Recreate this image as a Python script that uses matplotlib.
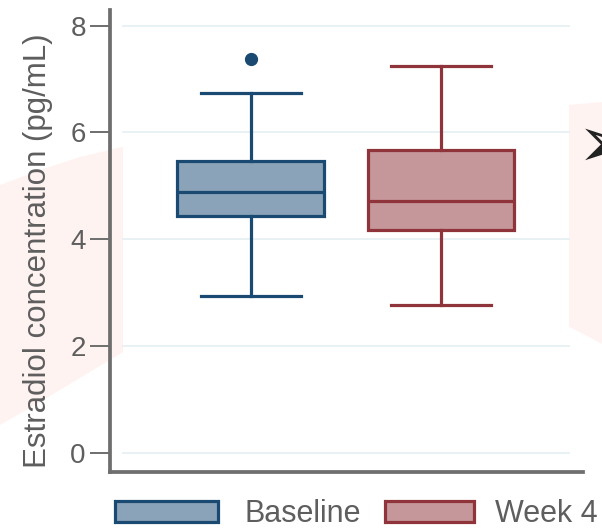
import matplotlib
matplotlib.use('Agg')
import matplotlib.pyplot as plt
from matplotlib.patches import Patch, Polygon, Rectangle

# values
groups = ["Baseline", "Week 4"]
q1 = [4.44, 4.18]
medians = [4.88, 4.71]
q3 = [5.47, 5.67]
whisk_lo = [2.95, 2.77]
whisk_hi = [6.73, 7.24]
outliers = [[7.38], []]
yticks = [0, 2, 4, 6, 8]

fills = ["#8BA3B8", "#C5969A"]
edges = ["#1A4971", "#8F343B"]
grey = "#5E5E5E"

plt.rcParams['font.family'] = ['Liberation Sans', 'DejaVu Sans']

W, H = 602, 528
fig = plt.figure(figsize=(W / 100, H / 100), dpi=100)
fig.patch.set_facecolor("white")


def px(pts):
    return [(x / W, 1 - y / H) for x, y in pts]


# faint pink shape of the slide behind the chart
left_blob = [(0, 185), (40, 170), (80, 157), (130, 145), (130, 348),
             (80, 378), (40, 402), (0, 425)]
right_blob = [(568, 105), (602, 102), (602, 344), (568, 326)]
for pts in (left_blob, right_blob):
    fig.patches.append(Polygon(px(pts), closed=True, transform=fig.transFigure,
                               facecolor="#FFF3F2", edgecolor="none", zorder=-5))

ax = fig.add_axes([110 / W, 1 - 472 / H, 473 / W, 462 / H])
ax.patch.set_facecolor("none")
gx0, gx1 = 13 / 473, 459 / 473
ax.add_patch(Rectangle((gx0, 0), gx1 - gx0, 1, transform=ax.transAxes,
                       facecolor="white", edgecolor="none", zorder=0))

ax.set_ylim(-0.35, 8.29)
ax.set_xlim(-0.7375, 1.745)
for t in yticks:
    ax.axhline(t, xmin=gx0, xmax=gx1, color="#E6F0F2", lw=1.3, zorder=1)

stats = []
for i, g in enumerate(groups):
    stats.append(dict(label=g, q1=q1[i], med=medians[i], q3=q3[i],
                      whislo=whisk_lo[i], whishi=whisk_hi[i], fliers=outliers[i]))

for i, s in enumerate(stats):
    ax.bxp([s], positions=[i], widths=0.77, capwidths=0.525, patch_artist=True,
           manage_ticks=False, zorder=3,
           boxprops=dict(facecolor=fills[i], edgecolor=edges[i], lw=2.3),
           medianprops=dict(color=edges[i], lw=2.3),
           whiskerprops=dict(color=edges[i], lw=2.3),
           capprops=dict(color=edges[i], lw=2.3),
           flierprops=dict(marker="o", markerfacecolor=edges[i],
                           markeredgecolor=edges[i], markersize=8.5))

for side in ("top", "right"):
    ax.spines[side].set_visible(False)
for side in ("left", "bottom"):
    ax.spines[side].set_color("#6E6E6E")
    ax.spines[side].set_linewidth(2.7)
ax.set_xticks([])
ax.set_yticks(yticks)
ax.tick_params(axis="y", length=14.4, width=1.4, color="#6E6E6E",
               labelsize=20, labelcolor=grey, pad=3)
ax.set_ylabel("Estradiol concentration (pg/mL)", fontsize=22.5, color=grey)
ax.yaxis.set_label_coords(-0.12, 0.48)

# two single-entry legends, the second key is shorter in the reference
hlen = [3.37, 2.91]
tpad = [0.88, 0.7]
xpos = [115, 385]
for i, g in enumerate(groups):
    h = Patch(facecolor=fills[i], edgecolor=edges[i], lw=2.3, label=g)
    fig.legend(handles=[h], loc="upper left", frameon=False,
               bbox_to_anchor=(xpos[i] / W, 1 - 499 / H), borderpad=0,
               borderaxespad=0, fontsize=22, labelcolor=grey,
               handlelength=hlen[i], handleheight=0.69,
               handletextpad=tpad[i])

# arrow bullet of the slide, cut by the right edge as in the reference
fig.text(577 / W, 1 - 147 / H, "\u27a2", fontsize=52, color="#222222",
         ha="left", va="center", family=["DejaVu Sans"])

fig.savefig("out.png", dpi=100, facecolor="white")
